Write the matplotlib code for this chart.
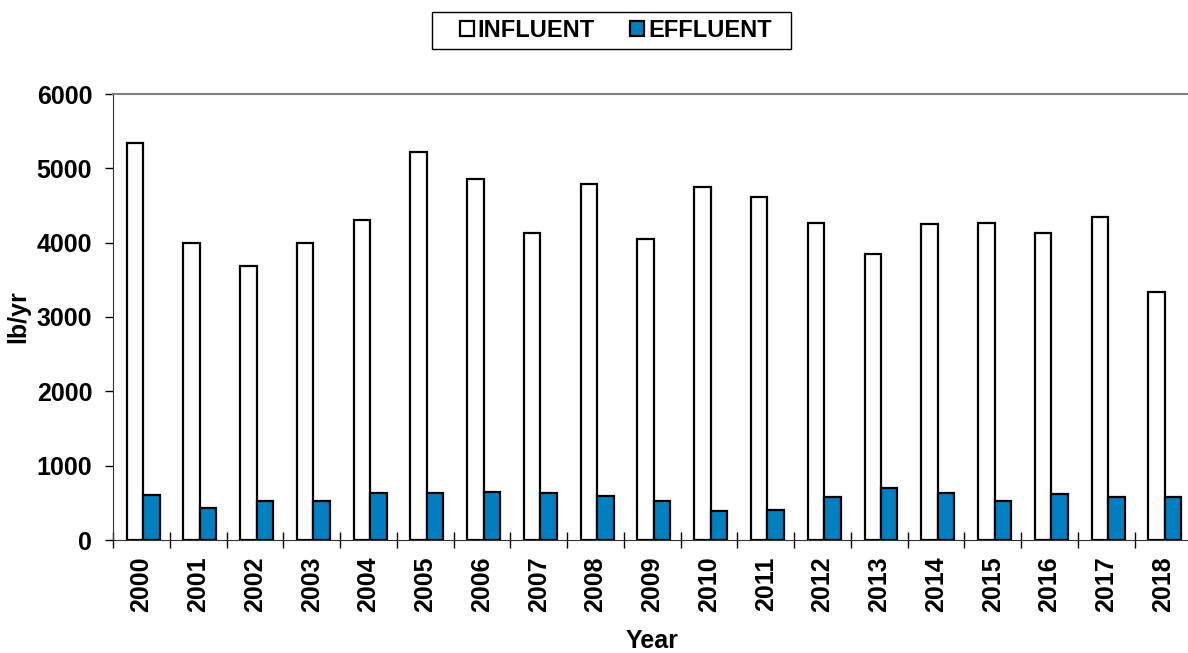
import matplotlib.pyplot as plt
from matplotlib.patches import Rectangle
import numpy as np

# yearly loads, lb/yr
years = ['2000', '2001', '2002', '2003', '2004', '2005', '2006', '2007', '2008', '2009',
         '2010', '2011', '2012', '2013', '2014', '2015', '2016', '2017', '2018']
influent = [5335, 3995, 3684, 3989, 4303, 5214, 4855, 4124, 4787, 4051,
            4747, 4612, 4262, 3849, 4245, 4267, 4132, 4343, 3330]
effluent = [611, 427, 521, 530, 628, 638, 646, 638, 588, 530,
            396, 404, 575, 700, 633, 525, 619, 584, 575]

plt.rcParams['font.family'] = ['Liberation Sans', 'DejaVu Sans']
plt.rcParams['font.weight'] = 'bold'

W, H = 1188, 653
fig = plt.figure(figsize=(W / 100, H / 100), dpi=100)
ax = fig.add_axes([113 / W, 1 - 540 / H, (1191.5 - 113) / W, (540 - 94) / H])

x = np.arange(len(years))
w = 0.29
ax.bar(x - w / 2 + 0.03, influent, w, color='white', edgecolor='black', linewidth=1.6, label='INFLUENT')
ax.bar(x + w / 2 + 0.03, effluent, w, color='#0080C0', edgecolor='black', linewidth=1.6, label='EFFLUENT')

ax.set_xlim(-0.5, len(years) - 0.5)
ax.set_ylim(0, 6000)
ax.set_yticks(range(0, 6001, 1000))
ax.tick_params(axis='y', direction='out', length=6, width=1, labelsize=18, pad=9)

# labels at centres, tick marks at the category boundaries
ax.set_xticks(x)
ax.set_xticklabels(years, rotation=90, fontsize=18)
ax.tick_params(axis='x', which='major', length=0, pad=12)
ax.set_xticks(np.arange(-0.5, len(years)), minor=True)
ax.tick_params(axis='x', which='minor', direction='inout', length=11, width=1)

for side in ['left', 'bottom']:
    ax.spines[side].set_color('#333333')
ax.spines['top'].set_color('#808080')
ax.spines['top'].set_linewidth(1.5)
ax.spines['right'].set_visible(False)

ax.set_ylabel('lb/yr', fontsize=18, fontweight='bold')
ax.yaxis.set_label_coords((30 - 113) / (1191.5 - 113), 0.5)
ax.set_xlabel('Year', fontsize=18, fontweight='bold', labelpad=12)

# legend box drawn separately so its padding matches
fig.patches.append(Rectangle((432 / W, 1 - 49 / H), (791 - 432) / W, 37 / H,
                             transform=fig.transFigure, facecolor='white', edgecolor='black',
                             linewidth=1, zorder=0))
leg = fig.legend(loc='center left', bbox_to_anchor=(460 / W, 1 - 30.5 / H), ncol=2, fontsize=17,
                 frameon=False, handlelength=0.6, handleheight=0.6, handletextpad=0.15,
                 columnspacing=1.5, borderpad=0, borderaxespad=0)

fig.savefig('out.png', dpi=100)
